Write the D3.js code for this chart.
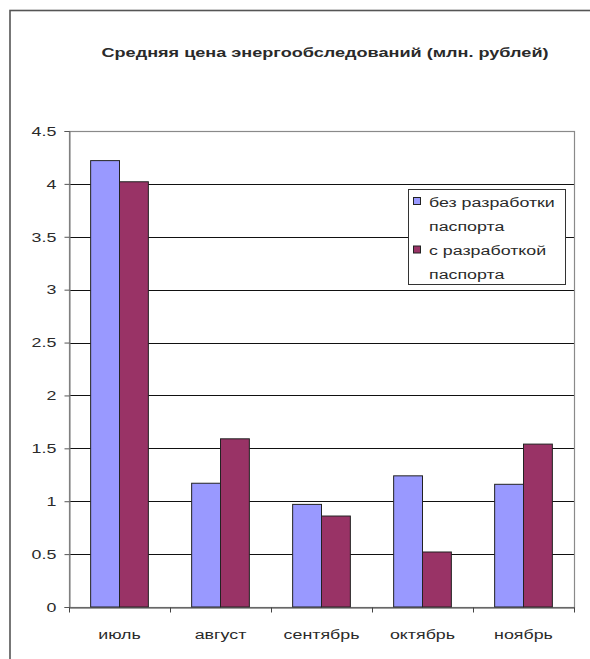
<!DOCTYPE html>
<html>
<head>
<meta charset="utf-8">
<script src="https://cdn.jsdelivr.net/npm/d3@7"></script>
<style>
  html, body { margin: 0; padding: 0; background: #fff; }
  svg { display: block; }
  text { font-family: Arial, "Liberation Sans", sans-serif; fill: #2a2a2a; }
</style>
</head>
<body>
<svg id="chart" width="590" height="659"></svg>
<script>
// Средняя цена энергообследований, млн. рублей
const months = ["июль", "август", "сентябрь", "октябрь", "ноябрь"];
const seriesNames = ["без разработки паспорта", "с разработкой паспорта"];
const withoutPassport = [4.22, 1.17, 0.97, 1.24, 1.16];
const withPassport = [4.02, 1.59, 0.86, 0.52, 1.54];
const yTicks = [0, 0.5, 1, 1.5, 2, 2.5, 3, 3.5, 4, 4.5];
const titleText = "Средняя цена энергообследований (млн. рублей)";
const legendLines = [["без разработки", "паспорта"], ["с разработкой", "паспорта"]];

const colors = ["#9999ff", "#993366"];
const sx = 1.32; // horizontal text stretch

const svg = d3.select("#chart");

// outer chart frame
svg.append("rect")
  .attr("x", 10).attr("y", 10.5)
  .attr("width", 640).attr("height", 700)
  .attr("fill", "none").attr("stroke", "#555").attr("stroke-width", 1.6);

const plot = { left: 69, right: 574, top: 131, bottom: 607 };

const x = d3.scaleBand().domain(months).range([plot.left, plot.right]);
const y = d3.scaleLinear().domain([0, 4.5]).range([plot.bottom, plot.top]);

const bw = x.bandwidth() / 3.5;
const sub = d3.scaleBand().domain([0, 1]).range([0, 2 * bw]);
const groupOffset = (x.bandwidth() - 2 * bw) / 2;

// title
svg.append("text")
  .attr("transform", `translate(325,57) scale(1.34,1)`)
  .attr("text-anchor", "middle")
  .attr("font-size", 13.5)
  .attr("font-weight", "bold")
  .text(titleText);

// horizontal gridlines
svg.append("g")
  .selectAll("line")
  .data(yTicks.filter(t => t > 0 && t < 4.5))
  .join("line")
  .attr("x1", plot.left).attr("x2", plot.right)
  .attr("y1", d => Math.round(y(d)) + 0.5).attr("y2", d => Math.round(y(d)) + 0.5)
  .attr("stroke", "#111").attr("stroke-width", 1);

// plot area border
svg.append("rect")
  .attr("x", plot.left + 0.5).attr("y", plot.top + 0.5)
  .attr("width", plot.right - plot.left).attr("height", plot.bottom - plot.top)
  .attr("fill", "none").attr("stroke", "#8a8a8a").attr("stroke-width", 1.2);

// bars
const series = [withoutPassport, withPassport];
series.forEach((vals, si) => {
  svg.append("g")
    .selectAll("rect")
    .data(vals)
    .join("rect")
    .attr("x", (d, i) => x(months[i]) + groupOffset + sub(si))
    .attr("y", d => y(d))
    .attr("width", sub.bandwidth())
    .attr("height", d => y(0) - y(d))
    .attr("fill", colors[si])
    .attr("stroke", "#222").attr("stroke-width", 1);
});

// y axis
const yAxis = svg.append("g")
  .attr("transform", `translate(${plot.left + 0.5},0)`)
  .call(d3.axisLeft(y).tickValues(yTicks).tickSize(5).tickPadding(5).tickFormat(d3.format("")));
yAxis.select(".domain").attr("stroke", "#777");
yAxis.selectAll(".tick line").attr("stroke", "#555");
yAxis.selectAll(".tick text")
  .attr("font-size", 13.5)
  .attr("fill", "#2a2a2a")
  .attr("transform", `scale(${sx},1)`);

// x axis: labels centred on categories, ticks at category boundaries
const xAxis = svg.append("g")
  .attr("transform", `translate(0,${plot.bottom + 0.5})`)
  .call(d3.axisBottom(x).tickSize(0).tickPadding(22));
xAxis.select(".domain").attr("stroke", "#444");
xAxis.selectAll(".tick text")
  .attr("font-size", 13.5)
  .attr("fill", "#2a2a2a")
  .attr("transform", `scale(${sx},1)`);
xAxis.append("g")
  .selectAll("line")
  .data(months.map(m => x(m)).concat([x.range()[1]]))
  .join("line")
  .attr("x1", d => Math.round(d) + 0.5).attr("x2", d => Math.round(d) + 0.5)
  .attr("y1", 0).attr("y2", 5)
  .attr("stroke", "#444");

// legend
const lg = svg.append("g").attr("transform", "translate(408.5,189.5)");
lg.append("rect")
  .attr("width", 157).attr("height", 95)
  .attr("fill", "#fff").attr("stroke", "#333").attr("stroke-width", 1);
legendLines.forEach((lines, i) => {
  const base = 17 + i * 48.5;
  lg.append("rect")
    .attr("x", 5).attr("y", base - 9)
    .attr("width", 7).attr("height", 7)
    .attr("fill", colors[i]).attr("stroke", "#222").attr("stroke-width", 1);
  lines.forEach((t, j) => {
    lg.append("text")
      .attr("transform", `translate(20.5,${base + j * 24}) scale(${sx},1)`)
      .attr("font-size", 13.5)
      .text(t);
  });
});
</script>
</body>
</html>
